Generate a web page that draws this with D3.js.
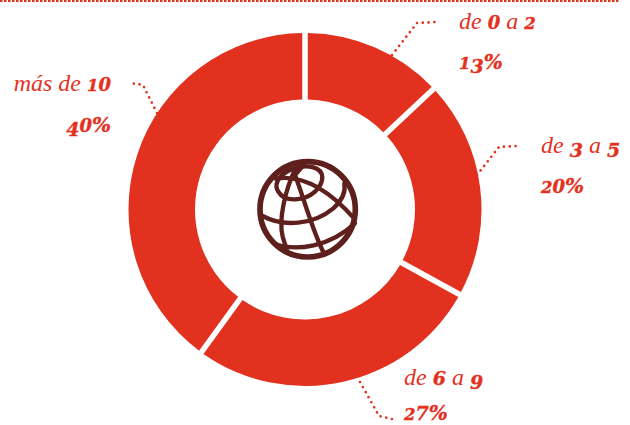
<!DOCTYPE html>
<html lang="es">
<head>
<meta charset="utf-8">
<script src="https://cdn.jsdelivr.net/npm/d3@7"></script>
<style>
html,body{margin:0;padding:0;background:#fff;overflow:hidden}
svg{display:block}
.t{font-family:"Liberation Serif",serif;font-style:italic;font-size:24px;fill:#e2321f}
.b{font-family:"DejaVu Serif",serif;font-weight:700;font-style:italic;font-size:19px;stroke:#e2321f;stroke-width:.35px}
.s{font-size:16.5px}
.z{font-size:18px}
.p{font-size:20px}
</style>
</head>
<body>
<svg id="chart" width="630" height="425"></svg>
<script>
// Reparto por tramos
const categories = ["de 0 a 2", "de 3 a 5", "de 6 a 9", "más de 10"];
const shares = [13, 20, 27, 40];
const shareLabels = ["13%", "20%", "27%", "40%"];

const RED = "#e2321f", BROWN = "#5e201c";
const cx = 305, cy = 209.5, outerR = 176.5, innerR = 110, gap = 5.5;

// Caption placement and elbowed leader for each slice, same order as the categories
const captionX = [459, 541, 404, 111];
const captionY = [29, 153, 385, 91];
const valueY = [69, 193, 419.5, 132];
const valueDrop = [4, 4, 0, 4]; // the lowest figure stays on its baseline to clear the page edge
const captionAnchor = ["start", "start", "start", "end"];
const leaderPaths = [
  [[392, 55], [417, 23], [436, 22]],
  [[477, 175], [499, 147], [517, 146]],
  [[360, 382], [379, 416], [392, 419]],
  [[157, 113], [143, 85], [130, 83]]
];

const svg = d3.select("#chart");

// Dotted rule along the top edge
svg.append("line")
  .attr("x1", 0).attr("x2", 620).attr("y1", 1).attr("y2", 1)
  .attr("stroke", RED).attr("stroke-width", 2).attr("stroke-dasharray", "2.5 1.5");

// Ring with parallel-sided gaps between slices
const pie = d3.pie().sort(null).value(d => d);
const arc = d3.arc().innerRadius(innerR).outerRadius(outerR)
  .padAngle(gap / outerR).padRadius(outerR);
svg.append("g").attr("transform", `translate(${cx},${cy})`)
  .selectAll("path").data(pie(shares)).join("path")
  .attr("d", arc).attr("fill", RED);

// Leaders
const leader = d3.line().curve(d3.curveLinear);
svg.selectAll("path.leader").data(leaderPaths).join("path")
  .attr("class", "leader").attr("d", leader).attr("fill", "none")
  .attr("stroke", RED).attr("stroke-width", 2.7)
  .attr("stroke-linecap", "round").attr("stroke-dasharray", "0 5.8");

// Old-style numerals: 0, 1, 2 sit at x-height, 3, 4, 5, 7, 9 hang below the baseline
function addFigures(t, str, amount) {
  let shift = 0;
  for (const ch of str) {
    const drop = /[34579]/.test(ch) ? amount : 0;
    t.append("tspan")
      .attr("class", ch === "0" ? "b z" : /[12]/.test(ch) ? "b s" : "b")
      .attr("dy", drop - shift)
      .text(ch);
    shift = drop;
  }
  return shift;
}

// Captions: digits are set heavier than the connecting words
categories.forEach((c, i) => {
  const t = svg.append("text").attr("class", "t")
    .attr("x", captionX[i]).attr("y", captionY[i]).attr("text-anchor", captionAnchor[i]);
  let shift = 0;
  c.split(/(\d+)/).filter(Boolean).forEach(part => {
    if (/\d/.test(part)) shift = addFigures(t, part, 4);
    else { t.append("tspan").attr("dy", -shift).text(part); shift = 0; }
  });
  const v = svg.append("text").attr("class", "t")
    .attr("x", captionX[i]).attr("y", valueY[i]).attr("text-anchor", captionAnchor[i]);
  const lastShift = addFigures(v, shareLabels[i].replace("%", ""), valueDrop[i]);
  v.append("tspan").attr("class", "b p").attr("dy", -lastShift).text("%");
});

// Globe icon, drawn in a 135-unit box and scaled down
const globe = svg.append("g").attr("transform", "translate(240,140) scale(0.3333)")
  .attr("fill", "none").attr("stroke", BROWN).attr("stroke-linecap", "round");
globe.append("circle").attr("cx", 203).attr("cy", 208).attr("r", 143).attr("stroke-width", 17);
const globeLines = [
  "M112,125 C125,92 180,72 220,82 C255,92 255,125 225,155 C195,182 135,190 115,155 C108,145 108,135 112,125",
  "M106,116 C170,105 250,130 345,238",
  "M68,228 C130,262 220,255 280,205 C305,182 318,155 313,130",
  "M105,312 C170,335 270,320 345,250",
  "M168,82 C135,150 115,240 128,290 L142,335",
  "M165,105 C190,170 220,280 252,340",
  "M192,74 L165,105"
];
globe.selectAll("path").data(globeLines).join("path").attr("d", d => d).attr("stroke-width", 13);
</script>
</body>
</html>
